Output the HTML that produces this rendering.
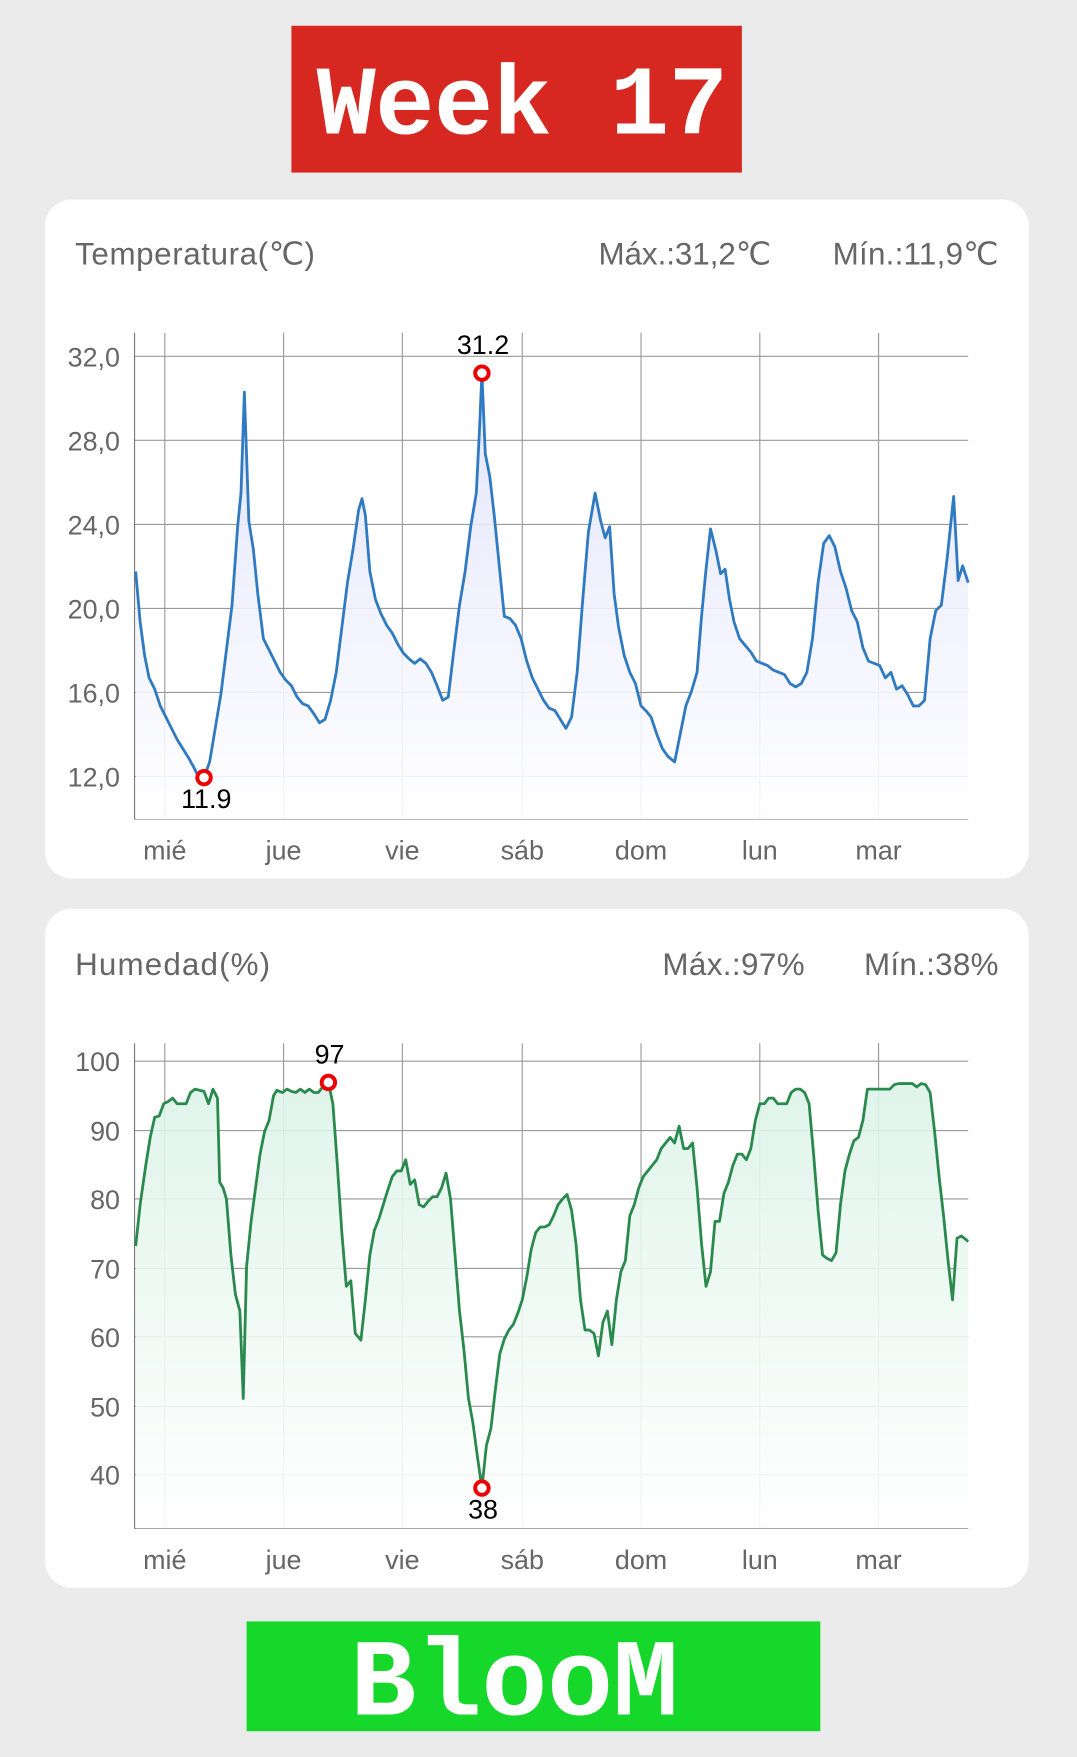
<!DOCTYPE html>
<html><head><meta charset="utf-8"><style>
html,body{margin:0;padding:0;background:#ebebeb;}
svg{display:block;}
text{font-family:"Liberation Sans","DejaVu Sans",sans-serif;}
</style></head><body>
<svg width="1077" height="1757" viewBox="0 0 961 1568" xmlns="http://www.w3.org/2000/svg">
<defs>
<linearGradient id="gb" x1="0" y1="0" x2="0" y2="1"><stop offset="0" stop-color="#dfe2fb"/><stop offset="1" stop-color="#ffffff"/></linearGradient>
<linearGradient id="gg" x1="0" y1="0" x2="0" y2="1"><stop offset="0" stop-color="#dcf3e8"/><stop offset="1" stop-color="#ffffff"/></linearGradient>
</defs>
<rect width="961" height="1568" fill="#ebebeb"/>
<rect x="260" y="23" width="402" height="131" fill="#d62720"/>
<text x="466" y="119" text-anchor="middle" font-family="Liberation Mono,monospace" font-weight="bold" font-size="88" fill="#fff" textLength="367" style="font-family:'Liberation Mono',monospace">Week 17</text>

<rect x="40" y="178" width="878" height="606" rx="24" fill="#fff"/>
<text x="67" y="236" font-size="28" fill="#666" textLength="214">Temperatura(℃)</text>
<text x="534" y="236" font-size="28" fill="#666" textLength="154">Máx.:31,2℃</text>
<text x="743" y="236" font-size="28" fill="#666" textLength="148">Mín.:11,9℃</text>
<g stroke="#999" stroke-width="1">
<line x1="120" y1="318" x2="864" y2="318"/><line x1="120" y1="393" x2="864" y2="393"/><line x1="120" y1="468" x2="864" y2="468"/><line x1="120" y1="543" x2="864" y2="543"/><line x1="120" y1="618" x2="864" y2="618"/><line x1="120" y1="693" x2="864" y2="693"/>
<line x1="147" y1="297" x2="147" y2="731"/><line x1="253" y1="297" x2="253" y2="731"/><line x1="359" y1="297" x2="359" y2="731"/><line x1="466" y1="297" x2="466" y2="731"/><line x1="572" y1="297" x2="572" y2="731"/><line x1="678" y1="297" x2="678" y2="731"/><line x1="784" y1="297" x2="784" y2="731"/>
<line x1="120" y1="297" x2="120" y2="731" stroke="#777"/><line x1="120" y1="731" x2="864" y2="731" stroke="#777"/>
</g>
<g font-size="24" fill="#666" text-anchor="end">
<text x="107" y="327">32,0</text><text x="107" y="402">28,0</text><text x="107" y="477">24,0</text><text x="107" y="552">20,0</text><text x="107" y="627">16,0</text><text x="107" y="702">12,0</text>
</g>
<g font-size="24" fill="#666" text-anchor="middle">
<text x="147" y="767">mié</text><text x="253" y="767">jue</text><text x="359" y="767">vie</text><text x="466" y="767">sáb</text><text x="572" y="767">dom</text><text x="678" y="767">lun</text><text x="784" y="767">mar</text>
</g>
<polygon fill="url(#gb)" opacity="0.9" points="121,731 121,510 125,555 129,585 133,605 138,615 143,630 148,640 153,650 158,660 163,668 168,676 173,685 178,695 182,694 187,680 192,650 197,620 202,580 207,540 212,470 215,440 218,350 222,465 226,490 230,530 235,570 240,580 245,590 250,600 255,607 260,612 265,622 270,628 275,630 280,637 285,645 290,642 295,625 300,600 305,560 310,520 315,490 320,455 323,445 326,460 330,510 335,535 340,548 345,558 350,565 355,575 360,583 365,588 370,592 375,588 380,592 385,600 390,612 395,625 400,622 405,580 410,540 415,510 420,470 425,440 428,380 430,333 433,405 437,425 441,460 445,500 450,550 455,552 460,558 465,570 470,590 475,605 480,615 485,625 490,632 495,634 500,642 505,650 510,640 515,600 520,535 525,475 531,440 536,465 540,480 544,470 548,530 552,560 557,585 562,600 567,610 572,630 577,635 581,640 586,655 591,668 596,675 602,680 607,655 612,630 617,617 622,600 626,550 630,508 634,472 639,492 643,512 647,508 651,535 655,555 660,570 665,576 670,582 675,590 680,592 685,594 690,598 695,600 700,602 705,610 710,613 715,610 720,600 725,570 730,520 735,485 740,478 745,488 750,510 755,525 760,545 765,555 770,578 775,590 780,592 785,594 790,605 795,600 800,615 805,612 810,620 815,630 820,630 825,625 830,570 835,545 840,540 845,500 851,443 855,518 859,505 864,520 864,731"/>
<polyline fill="none" stroke="#2f7ac0" stroke-width="2.5" stroke-linejoin="round" points="121,510 125,555 129,585 133,605 138,615 143,630 148,640 153,650 158,660 163,668 168,676 173,685 178,695 182,694 187,680 192,650 197,620 202,580 207,540 212,470 215,440 218,350 222,465 226,490 230,530 235,570 240,580 245,590 250,600 255,607 260,612 265,622 270,628 275,630 280,637 285,645 290,642 295,625 300,600 305,560 310,520 315,490 320,455 323,445 326,460 330,510 335,535 340,548 345,558 350,565 355,575 360,583 365,588 370,592 375,588 380,592 385,600 390,612 395,625 400,622 405,580 410,540 415,510 420,470 425,440 428,380 430,333 433,405 437,425 441,460 445,500 450,550 455,552 460,558 465,570 470,590 475,605 480,615 485,625 490,632 495,634 500,642 505,650 510,640 515,600 520,535 525,475 531,440 536,465 540,480 544,470 548,530 552,560 557,585 562,600 567,610 572,630 577,635 581,640 586,655 591,668 596,675 602,680 607,655 612,630 617,617 622,600 626,550 630,508 634,472 639,492 643,512 647,508 651,535 655,555 660,570 665,576 670,582 675,590 680,592 685,594 690,598 695,600 700,602 705,610 710,613 715,610 720,600 725,570 730,520 735,485 740,478 745,488 750,510 755,525 760,545 765,555 770,578 775,590 780,592 785,594 790,605 795,600 800,615 805,612 810,620 815,630 820,630 825,625 830,570 835,545 840,540 845,500 851,443 855,518 859,505 864,520"/>
<circle cx="430" cy="333" r="6" fill="#fff" stroke="#e00" stroke-width="3.5"/>
<circle cx="182" cy="694" r="6" fill="#fff" stroke="#e00" stroke-width="3.5"/>
<text x="431" y="316" font-size="24" fill="#000" text-anchor="middle">31.2</text>
<text x="184" y="721" font-size="24" fill="#000" text-anchor="middle">11.9</text>

<rect x="40" y="811" width="878" height="606" rx="24" fill="#fff"/>
<text x="67" y="870" font-size="28" fill="#666" textLength="174">Humedad(%)</text>
<text x="591" y="870" font-size="28" fill="#666" textLength="127">Máx.:97%</text>
<text x="771" y="870" font-size="28" fill="#666" textLength="120">Mín.:38%</text>
<g stroke="#999" stroke-width="1">
<line x1="120" y1="947" x2="864" y2="947"/><line x1="120" y1="1009" x2="864" y2="1009"/><line x1="120" y1="1070" x2="864" y2="1070"/><line x1="120" y1="1132" x2="864" y2="1132"/><line x1="120" y1="1193" x2="864" y2="1193"/><line x1="120" y1="1255" x2="864" y2="1255"/><line x1="120" y1="1316" x2="864" y2="1316"/>
<line x1="147" y1="931" x2="147" y2="1364"/><line x1="253" y1="931" x2="253" y2="1364"/><line x1="359" y1="931" x2="359" y2="1364"/><line x1="466" y1="931" x2="466" y2="1364"/><line x1="572" y1="931" x2="572" y2="1364"/><line x1="678" y1="931" x2="678" y2="1364"/><line x1="784" y1="931" x2="784" y2="1364"/>
<line x1="120" y1="931" x2="120" y2="1364" stroke="#777"/><line x1="120" y1="1364" x2="864" y2="1364" stroke="#777"/>
</g>
<g font-size="24" fill="#666" text-anchor="end">
<text x="107" y="956">100</text><text x="107" y="1018">90</text><text x="107" y="1079">80</text><text x="107" y="1141">70</text><text x="107" y="1202">60</text><text x="107" y="1264">50</text><text x="107" y="1325">40</text>
</g>
<g font-size="24" fill="#666" text-anchor="middle">
<text x="147" y="1400">mié</text><text x="253" y="1400">jue</text><text x="359" y="1400">vie</text><text x="466" y="1400">sáb</text><text x="572" y="1400">dom</text><text x="678" y="1400">lun</text><text x="784" y="1400">mar</text>
</g>
<polygon fill="url(#gg)" opacity="0.9" points="121,1364 121,1112 125,1075 130,1040 134,1015 138,997 142,996 146,985 150,983 154,980 158,985 162,985 166,985 170,975 174,972 178,973 182,974 186,985 190,972 194,980 196,1055 199,1060 202,1070 206,1120 210,1155 214,1170 217,1248 220,1130 224,1090 228,1060 232,1030 236,1010 240,1000 244,978 247,973 252,975 256,972 260,974 264,975 268,972 272,975 276,972 280,975 284,975 288,970 293,966 297,985 301,1040 305,1100 309,1148 313,1143 317,1190 322,1196 326,1160 330,1120 334,1098 338,1088 342,1075 346,1062 350,1050 354,1045 358,1045 362,1035 366,1057 370,1053 374,1075 378,1077 382,1072 386,1068 390,1068 394,1060 398,1047 402,1070 406,1120 410,1170 414,1205 418,1248 422,1270 426,1300 430,1328 434,1290 438,1275 442,1240 446,1208 450,1195 454,1187 458,1182 462,1172 466,1160 470,1140 474,1115 478,1100 482,1095 486,1095 490,1093 494,1085 498,1075 502,1070 506,1066 510,1080 514,1110 518,1160 522,1187 526,1187 530,1190 534,1210 538,1180 542,1170 546,1200 550,1160 554,1135 558,1125 562,1085 566,1075 570,1060 574,1050 578,1045 582,1040 586,1035 590,1025 594,1020 598,1015 602,1020 606,1005 610,1025 614,1025 618,1020 622,1060 626,1110 630,1148 634,1135 638,1090 642,1090 646,1065 650,1055 654,1040 658,1030 662,1030 666,1035 670,1025 674,1000 678,985 682,985 686,980 690,980 694,985 698,985 702,985 706,975 710,972 714,972 718,975 722,985 726,1030 730,1080 734,1120 738,1123 742,1125 746,1118 750,1075 754,1045 758,1030 762,1018 766,1015 770,1000 774,972 778,972 782,972 786,972 790,972 794,972 798,968 802,967 806,967 810,967 814,967 818,970 822,967 826,968 830,975 834,1010 838,1050 842,1085 846,1125 850,1160 854,1105 858,1103 864,1108 864,1364"/>
<polyline fill="none" stroke="#2a8a4e" stroke-width="2.5" stroke-linejoin="round" points="121,1112 125,1075 130,1040 134,1015 138,997 142,996 146,985 150,983 154,980 158,985 162,985 166,985 170,975 174,972 178,973 182,974 186,985 190,972 194,980 196,1055 199,1060 202,1070 206,1120 210,1155 214,1170 217,1248 220,1130 224,1090 228,1060 232,1030 236,1010 240,1000 244,978 247,973 252,975 256,972 260,974 264,975 268,972 272,975 276,972 280,975 284,975 288,970 293,966 297,985 301,1040 305,1100 309,1148 313,1143 317,1190 322,1196 326,1160 330,1120 334,1098 338,1088 342,1075 346,1062 350,1050 354,1045 358,1045 362,1035 366,1057 370,1053 374,1075 378,1077 382,1072 386,1068 390,1068 394,1060 398,1047 402,1070 406,1120 410,1170 414,1205 418,1248 422,1270 426,1300 430,1328 434,1290 438,1275 442,1240 446,1208 450,1195 454,1187 458,1182 462,1172 466,1160 470,1140 474,1115 478,1100 482,1095 486,1095 490,1093 494,1085 498,1075 502,1070 506,1066 510,1080 514,1110 518,1160 522,1187 526,1187 530,1190 534,1210 538,1180 542,1170 546,1200 550,1160 554,1135 558,1125 562,1085 566,1075 570,1060 574,1050 578,1045 582,1040 586,1035 590,1025 594,1020 598,1015 602,1020 606,1005 610,1025 614,1025 618,1020 622,1060 626,1110 630,1148 634,1135 638,1090 642,1090 646,1065 650,1055 654,1040 658,1030 662,1030 666,1035 670,1025 674,1000 678,985 682,985 686,980 690,980 694,985 698,985 702,985 706,975 710,972 714,972 718,975 722,985 726,1030 730,1080 734,1120 738,1123 742,1125 746,1118 750,1075 754,1045 758,1030 762,1018 766,1015 770,1000 774,972 778,972 782,972 786,972 790,972 794,972 798,968 802,967 806,967 810,967 814,967 818,970 822,967 826,968 830,975 834,1010 838,1050 842,1085 846,1125 850,1160 854,1105 858,1103 864,1108"/>
<circle cx="293" cy="966" r="6" fill="#fff" stroke="#e00" stroke-width="3.5"/>
<circle cx="430" cy="1328" r="6" fill="#fff" stroke="#e00" stroke-width="3.5"/>
<text x="294" y="949" font-size="24" fill="#000" text-anchor="middle">97</text>
<text x="431" y="1355" font-size="24" fill="#000" text-anchor="middle">38</text>

<rect x="220" y="1447" width="512" height="98" fill="#16d82b"/>
<text x="459" y="1530" text-anchor="middle" font-weight="bold" font-size="98" fill="#fff" textLength="293" style="font-family:'Liberation Mono',monospace">BlooM</text>
</svg>
</body></html>
